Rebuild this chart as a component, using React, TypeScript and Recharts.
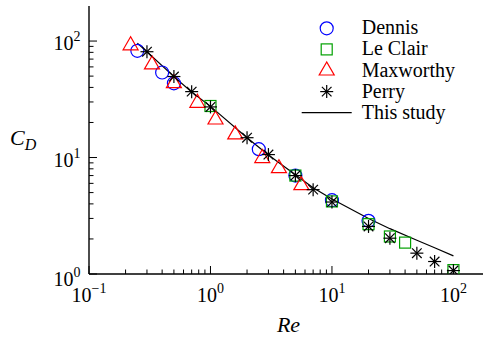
import { ComposedChart, Scatter, Line, XAxis, YAxis, Legend } from 'recharts';

const FONT = 'Liberation Serif, DejaVu Serif, Times New Roman, serif';

// Dennis (circles)
const dennisRe = [0.25, 0.4, 0.5, 2.5, 5, 10, 20];
const dennisCd = [82.5, 53.7, 43.4, 11.8, 7.0, 4.3, 2.86];
// Le Clair (squares)
const leclairRe = [1, 5, 10, 20, 30, 40, 100];
const leclairCd = [27.7, 7.0, 4.2, 2.68, 2.1, 1.86, 1.08];
// Maxworthy (triangles)
const maxRe = [0.22, 0.33, 0.5, 0.78, 1.1, 1.6, 2.67, 3.66, 5.6];
const maxCd = [92, 63, 43.5, 29.5, 21.2, 15.8, 9.9, 8.1, 5.8];
// Perry (stars)
const perryRe = [0.3, 0.5, 0.7, 1, 2, 3, 5, 7, 10, 20, 30, 50, 70, 100];
const perryCd = [81, 49.6, 36.8, 27.2, 14.8, 10.6, 7.0, 5.3, 4.15, 2.56, 2.03, 1.51, 1.28, 1.07];
// This study (curve)
const studyRe = [0.25, 0.3, 0.5, 0.7, 1, 2, 3, 5, 7, 10, 20, 30, 50, 70, 100];
const studyCd = [96, 81, 49.5, 36.5, 27.5, 14.8, 10.5, 7.1, 5.5, 4.4, 3.0, 2.45, 1.95, 1.68, 1.43];

const xMajors = [0.1, 1, 10, 100];
const yMajors = [1, 10, 100];
const xDomain = [0.1, 200];
const yDomain = [1, 200];

const zip = (re: number[], cd: number[]) => re.map((r, i) => ({ re: r, cd: cd[i] }));
const withMinors = (majors: number[], max: number) => {
  const out: number[] = [];
  majors.forEach((m) => {
    for (let k = 1; k <= 9; k++) {
      const v = m * k;
      if (v < max) out.push(v);
    }
  });
  return out;
};

const xTicks = withMinors(xMajors, 200);
const yTicks = withMinors(yMajors, 200);

const isMajor = (v: number) => {
  const l = Math.log10(v);
  return Math.abs(l - Math.round(l)) < 1e-6;
};
const expText = (v: number) => {
  const e = Math.round(Math.log10(v));
  return e < 0 ? '\u2212' + Math.abs(e) : String(e);
};

const BLUE = '#0000ff';
const GREEN = '#00a000';
const RED = '#ff0000';
const SW = 1.2;

const Circle = ({ cx, cy }: any) => <circle cx={cx} cy={cy} r={6.5} fill="none" stroke={BLUE} strokeWidth={SW} />;
const Square = ({ cx, cy }: any) => (
  <rect x={cx - 5.5} y={cy - 5.5} width={11} height={11} fill="none" stroke={GREEN} strokeWidth={SW} />
);
const Triangle = ({ cx, cy }: any) => (
  <polygon
    points={`${cx},${cy - 8.5} ${cx - 7.5},${cy + 4.5} ${cx + 7.5},${cy + 4.5}`}
    fill="none"
    stroke={RED}
    strokeWidth={SW}
  />
);
const Star = ({ cx, cy }: any) => {
  const a = 6.5;
  const d = 4.8;
  return (
    <g stroke="#000" strokeWidth={SW}>
      <line x1={cx - a} y1={cy} x2={cx + a} y2={cy} />
      <line x1={cx} y1={cy - a} x2={cx} y2={cy + a} />
      <line x1={cx - d} y1={cy - d} x2={cx + d} y2={cy + d} />
      <line x1={cx - d} y1={cy + d} x2={cx + d} y2={cy - d} />
    </g>
  );
};

const Pow10 = ({ x, y, v, anchor }: any) => (
  <text x={x} y={y} textAnchor={anchor} fontFamily={FONT} fontSize={20} fill="#000">
    10<tspan dy={-9} fontSize={14}>{expText(v)}</tspan>
  </text>
);

const BottomTick = ({ x, y, payload }: any) => {
  const major = isMajor(payload.value);
  return (
    <g>
      <line x1={x} x2={x} y1={y} y2={y - (major ? 8 : 4.5)} stroke="#000" />
      {major && <Pow10 x={x} y={y + 28} v={payload.value} anchor="middle" />}
    </g>
  );
};

const TopTick = ({ x, y, payload }: any) => {
  const major = isMajor(payload.value);
  return <line x1={x} x2={x} y1={y} y2={y + (major ? 8 : 4.5)} stroke="#000" />;
};

const LeftTick = ({ x, y, payload }: any) => {
  const major = isMajor(payload.value);
  return (
    <g>
      <line x1={x} x2={x + (major ? 8 : 4.5)} y1={y} y2={y} stroke="#000" />
      {major && <Pow10 x={x - 8.5} y={y + (payload.value === 1 ? 12 : 9)} v={payload.value} anchor="end" />}
    </g>
  );
};

const RightTick = ({ x, y, payload }: any) => {
  const major = isMajor(payload.value);
  return <line x1={x} x2={x - (major ? 8 : 4.5)} y1={y} y2={y} stroke="#000" />;
};

const legendItems = [
  { name: 'Dennis', Shape: Circle },
  { name: 'Le Clair', Shape: Square },
  { name: 'Maxworthy', Shape: Triangle },
  { name: 'Perry', Shape: Star },
  { name: 'This study', Shape: null },
];

const LegendBox = () => (
  <svg width={190} height={115} style={{ display: 'block' }}>
    {legendItems.map((it, i) => {
      const cy = 13.3 + 21.1 * i;
      const Shape = it.Shape;
      return (
        <g key={it.name}>
          {Shape ? (
            <Shape cx={31.7} cy={cy} />
          ) : (
            <line x1={6.7} x2={56.7} y1={cy} y2={cy} stroke="#000" strokeWidth={SW} />
          )}
          <text x={66.7} y={cy + 6} fontFamily={FONT} fontSize={20} fill="#000">
            {it.name}
          </text>
        </g>
      );
    })}
  </svg>
);

const axisLine = { stroke: '#000', strokeWidth: 1.4 };

export default function App() {
  return (
    <div style={{ position: 'fixed', left: 0, top: 0, width: 483, height: 339, overflow: 'hidden', background: '#fff' }}>
      <ComposedChart width={500} height={339} margin={{ top: 6, right: 10, bottom: 0, left: 0 }}>
        <XAxis
          xAxisId="b"
          dataKey="re"
          type="number"
          scale="log"
          domain={xDomain}
          allowDataOverflow
          ticks={xTicks}
          interval={0}
          tick={BottomTick}
          tickLine={false}
          tickSize={0}
          tickMargin={0}
          axisLine={axisLine}
          height={65}
          label={{
            content: ({ viewBox }: any) => (
              <text
                x={viewBox.x + viewBox.width / 2 - 1}
                y={332}
                textAnchor="middle"
                fontFamily={FONT}
                fontStyle="italic"
                fontSize={22}
                fill="#000"
              >
                Re
              </text>
            ),
          }}
        />
        <XAxis
          xAxisId="t"
          orientation="top"
          dataKey="re"
          type="number"
          scale="log"
          domain={xDomain}
          allowDataOverflow
          ticks={xTicks}
          interval={0}
          tick={TopTick}
          tickLine={false}
          tickSize={0}
          tickMargin={0}
          axisLine={axisLine}
          height={0}
        />
        <YAxis
          yAxisId="l"
          dataKey="cd"
          type="number"
          scale="log"
          domain={yDomain}
          allowDataOverflow
          ticks={yTicks}
          interval={0}
          tick={LeftTick}
          tickLine={false}
          tickSize={0}
          tickMargin={0}
          axisLine={axisLine}
          width={89}
          label={{
            content: () => (
              <text x={10} y={145} fontFamily={FONT} fontStyle="italic" fontSize={22} fill="#000">
                C<tspan dy={5} fontSize={16}>D</tspan>
              </text>
            ),
          }}
        />
        <YAxis
          yAxisId="r"
          orientation="right"
          dataKey="cd"
          type="number"
          scale="log"
          domain={yDomain}
          allowDataOverflow
          ticks={yTicks}
          interval={0}
          tick={RightTick}
          tickLine={false}
          tickSize={0}
          tickMargin={0}
          axisLine={axisLine}
          width={0}
        />
        <Legend
          layout="vertical"
          align="center"
          verticalAlign="middle"
          content={() => <LegendBox />}
          wrapperStyle={{ position: 'absolute', top: 15, left: 295, width: 190, height: 115 }}
        />
        <Line
          xAxisId="t"
          yAxisId="r"
          data={zip(studyRe, studyCd)}
          dataKey="cd"
          type="linear"
          stroke="#000"
          strokeWidth={SW}
          dot={false}
          activeDot={false}
          isAnimationActive={false}
          name="This study"
        />
        <Scatter xAxisId="b" yAxisId="l" data={zip(dennisRe, dennisCd)} dataKey="cd" shape={Circle} isAnimationActive={false} name="Dennis" />
        <Scatter xAxisId="b" yAxisId="l" data={zip(leclairRe, leclairCd)} dataKey="cd" shape={Square} isAnimationActive={false} name="Le Clair" />
        <Scatter xAxisId="b" yAxisId="l" data={zip(maxRe, maxCd)} dataKey="cd" shape={Triangle} isAnimationActive={false} name="Maxworthy" />
        <Scatter xAxisId="b" yAxisId="l" data={zip(perryRe, perryCd)} dataKey="cd" shape={Star} isAnimationActive={false} name="Perry" />
      </ComposedChart>
    </div>
  );
}
